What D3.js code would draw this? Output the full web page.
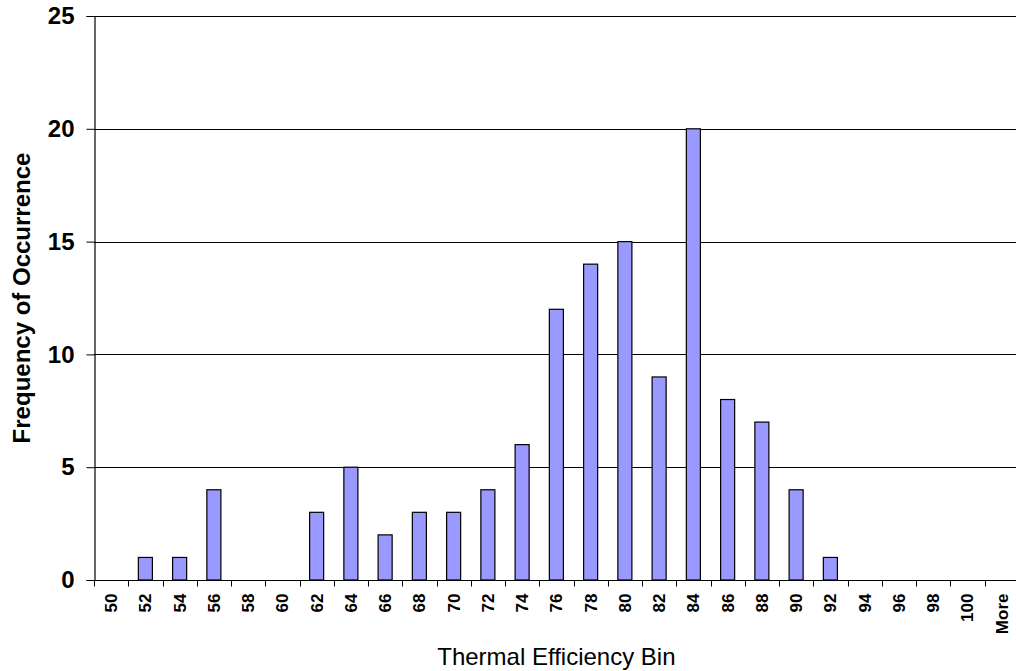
<!DOCTYPE html>
<html>
<head>
<meta charset="utf-8">
<script src="https://cdn.jsdelivr.net/npm/d3@7"></script>
<style>
  html, body { margin: 0; padding: 0; background: #fff; }
  svg { display: block; font-family: Arial, "Liberation Sans", sans-serif; }
</style>
</head>
<body>
<svg id="chart" width="1016" height="671"></svg>
<script>
const categories = ["50","52","54","56","58","60","62","64","66","68","70","72","74","76","78","80","82","84","86","88","90","92","94","96","98","100","More"];
const frequency = [0,1,1,4,0,0,3,5,2,3,3,4,6,12,14,15,9,20,8,7,4,1,0,0,0,0,0];
const yTicks = [0,5,10,15,20,25];
const xTitle = "Thermal Efficiency Bin";
const yTitle = "Frequency of Occurrence";

const svg = d3.select("#chart");
const pLeft = 94, pRight = 1018.75, pTop = 16, pBottom = 580;

const x = d3.scaleBand().domain(categories).range([pLeft, pRight]).padding(0);
const y = d3.scaleLinear().domain([0, 25]).range([pBottom, pTop]);

// gridlines
svg.append("g").selectAll("line").data(yTicks.filter(d => d > 0)).join("line")
  .attr("x1", pLeft).attr("x2", pRight)
  .attr("y1", d => Math.round(y(d)) + 0.5).attr("y2", d => Math.round(y(d)) + 0.5)
  .attr("stroke", "#000").attr("stroke-width", 1);

// bars
const barW = x.bandwidth() * 0.41;
svg.append("g").selectAll("rect").data(frequency.map((v, i) => ({c: categories[i], v})).filter(d => d.v > 0)).join("rect")
  .attr("x", d => x(d.c) + x.bandwidth() / 2 - barW / 2)
  .attr("y", d => y(d.v))
  .attr("width", barW)
  .attr("height", d => y(0) - y(d.v))
  .attr("fill", "#9999FF")
  .attr("stroke", "#000")
  .attr("stroke-width", 1.2);

// y axis
const yAxis = d3.axisLeft(y).tickValues(yTicks).tickSize(8).tickPadding(12).tickFormat(d3.format("d"));
const gy = svg.append("g").attr("transform", `translate(${pLeft + 0.5},0)`).call(yAxis);
gy.select(".domain").attr("stroke", "#000").attr("stroke-width", 1.2);
gy.selectAll(".tick line").attr("stroke", "#000");
gy.selectAll(".tick text").attr("font-size", 24).attr("font-weight", "bold").attr("fill", "#000")
  .attr("font-family", "Arial, 'Liberation Sans', sans-serif");

// x axis: ticks at category boundaries
const gx = svg.append("g").attr("transform", `translate(0,${pBottom + 0.5})`);
gx.append("line").attr("x1", pLeft).attr("x2", pRight).attr("stroke", "#000").attr("stroke-width", 1.2);
gx.selectAll("line.tk").data(categories).join("line").attr("class", "tk")
  .attr("x1", d => Math.round(x(d)) + 0.5).attr("x2", d => Math.round(x(d)) + 0.5)
  .attr("y1", 0).attr("y2", 6).attr("stroke", "#000");
gx.selectAll("text").data(categories).join("text")
  .attr("transform", d => `translate(${x(d) + x.bandwidth() / 2},13) rotate(-90)`)
  .attr("text-anchor", "end")
  .attr("dy", "0.35em")
  .attr("font-size", 17)
  .attr("font-weight", "bold")
  .attr("fill", "#000")
  .text(d => d);

// axis titles
svg.append("text").attr("x", (pLeft + pRight) / 2).attr("y", 665).attr("text-anchor", "middle")
  .attr("font-size", 24).attr("fill", "#000").text(xTitle);
svg.append("text").attr("transform", `translate(30,${(pTop + pBottom) / 2}) rotate(-90)`)
  .attr("text-anchor", "middle").attr("font-size", 24).attr("font-weight", "bold").attr("fill", "#000").text(yTitle);
</script>
</body>
</html>
